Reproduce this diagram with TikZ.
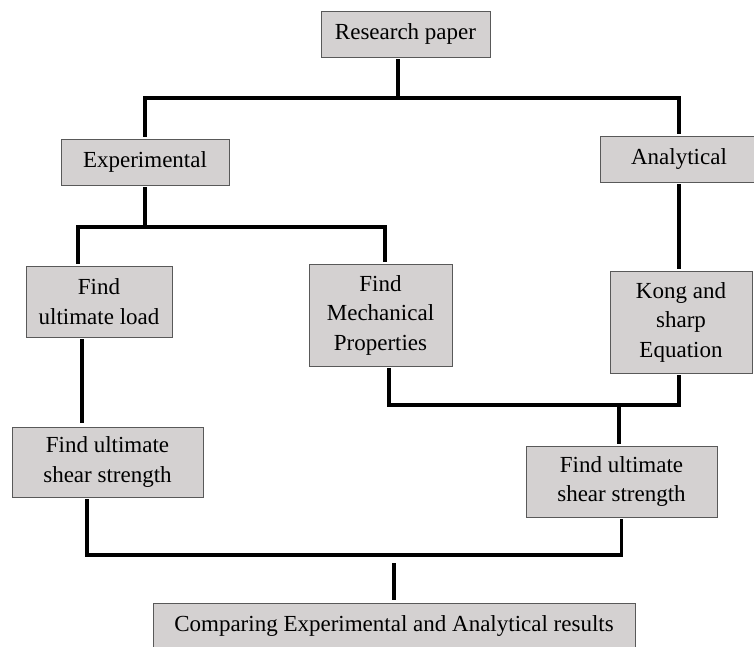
\documentclass[tikz,border=0pt]{standalone}
\usepackage{fontspec}
\setmainfont{Liberation Serif}
\definecolor{boxgray}{RGB}{212,209,209}

\begin{document}
\begin{tikzpicture}[x=1pt, y=-1pt,
    box/.style={draw=black!65, line width=0.9pt, fill=boxgray, inner sep=0pt,
      align=center, font=\fontsize{23}{29.5}\selectfont},
    conn/.style={line width=3.4pt, shorten <=2pt, shorten >=2pt}]
  \useasboundingbox (0,0) rectangle (754,646);

  % Caixas
  \node[box, minimum width=169pt, minimum height=46pt] (research) at (405.5,34) {Research paper};
  \node[box, minimum width=168pt, minimum height=46pt] (exp) at (145,162) {Experimental};
  \node[box, minimum width=158pt, minimum height=46pt] (ana) at (679,159) {Analytical};
  \node[box, minimum width=146pt, minimum height=71pt] (ult) at (99,301.5) {Find\\ultimate load};
  \node[box, minimum width=143pt, minimum height=102pt] (mech) at (380.5,315) {Find\\Mechanical\\Properties};
  \node[box, minimum width=142pt, minimum height=102pt] (kong) at (681,322) {Kong and\\sharp\\Equation};
  \node[box, minimum width=191pt, minimum height=70pt] (shearL) at (107.5,462) {Find ultimate\\shear strength};
  \node[box, minimum width=191pt, minimum height=71pt] (shearR) at (621.5,481.5) {Find ultimate\\shear strength};
  \node[box, minimum width=482pt, minimum height=46pt] (final) at (394,626) {Comparing Experimental and Analytical results};

  % Pontos de ramificacao
  \coordinate (rb) at (398,98);
  \coordinate (eb) at (144,227);
  \coordinate (mb) at (619,405);
  \coordinate (sb) at (394,555);
  \coordinate (cb) at (394,563);

  % Ligacoes
  \draw[conn, shorten >=0pt] (research.south -| rb) -- (rb);
  \draw[conn] (exp.north) |- (rb) -| (ana.north);
  \draw[conn, shorten >=0pt] (exp.south) -- (exp.south |- eb);
  \draw[conn] ([xshift=-21pt]ult.north) |- (eb) -| ([xshift=4.5pt]mech.north);
  \draw[conn] (ana.south) -- (ana.south |- kong.north);
  \draw[conn, shorten >=4pt] ([xshift=-17pt]ult.south) -- ([xshift=-25.5pt]shearL.north);
  \draw[conn] ([xshift=8.5pt]mech.south) |- (mb) -| ([xshift=-2pt]kong.south);
  \draw[conn, shorten <=0pt] (mb) -- ([xshift=-2.5pt]shearR.north);
  \draw[conn] ([xshift=-20.5pt]shearL.south) |- (sb) -| (shearR.south);
  \draw[conn, shorten <=0pt, shorten >=3pt] (cb) -- (final.north);
\end{tikzpicture}
\end{document}
